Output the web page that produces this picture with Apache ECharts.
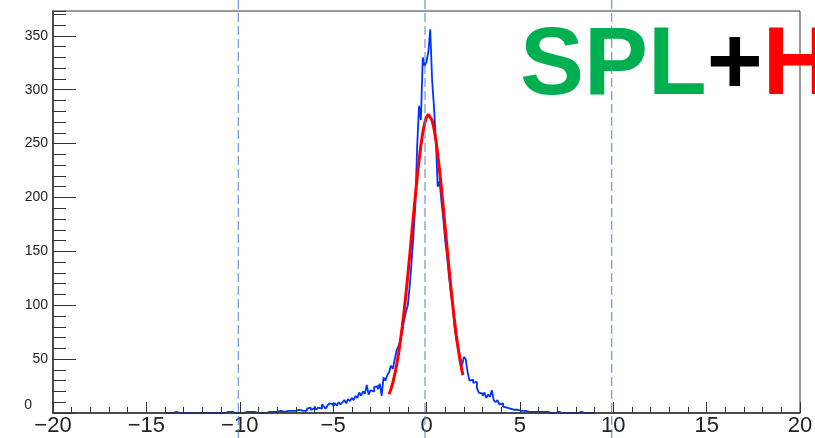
<!DOCTYPE html>
<html><head><meta charset="utf-8">
<script src="https://cdn.jsdelivr.net/npm/echarts@6/dist/echarts.min.js"></script>
<style>html,body{margin:0;padding:0;background:#fff}#c{width:815px;height:438px}</style>
</head><body><div id="c"></div>
<script>
// ---- data ----
const binStart = -14.0;
const binWidth = 0.1;
const counts = [
  0,0,0,0,0,1,0,0,0,0,          // -14.0
  0,0,0,0,0,0,0,0,1,0,          // -13.0
  0,0,0,0,0,0,1,0,1,0,          // -12.0
  1,0,0,1,0,1,0,0,0,0,          // -11.0
  0,0,0,1,1,1,1,1,0,0,          // -10.0
  0,0,0,0,1,1,0,1,2,1,          // -9.0
  1,2,3,1,1,2,1,2,1,2,          // -8.0
  2,3,4,2,3,2,4,5,3,4,          // -7.0
  6,3,5,4,8,6,4,7,9,8,          // -6.0
  6,9,7,10,8,10,12,9,13,11,     // -5.0
  14,12,16,14,19,16,20,18,26,17,// -4.0
  21,20,24,25,22,27,16,33,30,35,// -3.0
  38,44,41,50,58,62,67,76,86,94,// -2.0
  100,118,140,165,192,247,285,272,330,322, // -1.0
  326,335,356,309,284,253,210,215,196,180, // 0.0
  160,146,128,112,100,80,68,60,52,44,      // 1.0
  52,50,38,30,31,28,29,23,19,18,           // 2.0
  16,19,14,17,15,21,12,10,12,8,            // 3.0
  9,6,5,6,4,5,3,4,3,4,                     // 4.0
  2,3,2,2,1,2,1,2,1,1,                     // 5.0
  1,0,1,0,1,1,0,1,0,1,                     // 6.0
  1,0,0,1,0,1,0,0,0,0,                     // 7.0
  0,0,1,0,0,0,0,0,0,0                      // 8.0
];
const fitX = [-2.0,-1.9,-1.8,-1.7,-1.6,-1.5,-1.4,-1.3,-1.2,-1.1,
              -1.0,-0.9,-0.8,-0.7,-0.6,-0.5,-0.4,-0.3,-0.2,-0.1,
              0.0,0.1,0.2,0.3,0.4,0.5,0.6,0.7,0.8,0.9,
              1.0,1.1,1.2,1.3,1.4,1.5,1.6,1.7,1.8,1.9,1.95];
const fitY = [17.3,22.3,28.5,35.8,44.6,54.8,66.6,79.8,94.5,110.5,
              127.7,145.8,164.3,182.9,201.1,218.5,234.4,248.4,260.0,268.9,
              274.5,277.0,275.9,271.5,263.9,253.4,240.3,225.0,208.3,190.4,
              171.9,153.4,135.1,117.6,101.0,85.6,71.4,59.3,48.5,39.2,35.1];
const xTickValues = [-20,-15,-10,-5,0,5,10,15,20];
const xTickLabels = ['\u221220','\u221215','\u221210','\u22125','0','5','10','15','20'];
const yTickValues = [0,50,100,150,200,250,300,350];
const yTickLabels = ['0','50','100','150','200','250','300','350'];
const guideX = [-10, 0, 10];
const titleParts = ['SPL','+','H'];

// ---- chart ----
const FONT = '"Liberation Sans", Arial, Helvetica, sans-serif';
const chart = echarts.init(document.getElementById('c'), null, {renderer:'canvas'});

const histPts = [[binStart, 0]];
counts.forEach((c, i) => {
  const lo = +(binStart + i * binWidth).toFixed(2);
  const hi = +(binStart + (i + 1) * binWidth).toFixed(2);
  histPts.push([lo, c], [hi, c]);
});
histPts.push([+(binStart + counts.length * binWidth).toFixed(2), 0]);
const fitPts = fitX.map((x, i) => [x, fitY[i]]);

const xLab = v => { const k = xTickValues.indexOf(v); return k >= 0 ? xTickLabels[k] : ''; };
const yLab = v => { const k = yTickValues.indexOf(v); if (k < 0) return ''; return v === 0 ? '{z|0}' : yTickLabels[k]; };

const axisColor = '#333';
chart.setOption({
  animation: false,
  grid: {left: 53, right: 15, top: 11, bottom: 25, show: true, borderColor: axisColor, borderWidth: 1,
         backgroundColor: 'transparent', outerBoundsMode: 'none', containLabel: false},
  xAxis: {
    type: 'value', min: -20, max: 20, interval: 5, z: 10,
    axisLine: {show: true, onZero: false, lineStyle: {color: axisColor, width: 1.5}},
    axisTick: {show: true, inside: true, length: 11, lineStyle: {color: axisColor, width: 1}},
    minorTick: {show: true, splitNumber: 5, length: 6, lineStyle: {color: axisColor, width: 1}},
    axisLabel: {show: true, fontSize: 22, color: '#222', fontFamily: FONT, margin: 2,
                showMinLabel: true, showMaxLabel: true, formatter: xLab},
    splitLine: {show: false}, minorSplitLine: {show: false}
  },
  yAxis: [{
    type: 'value', min: 0, max: 373, interval: 50, position: 'left', z: 10,
    axisLine: {show: true, onZero: false, lineStyle: {color: axisColor, width: 1.5}},
    axisTick: {show: true, inside: true, length: 23, lineStyle: {color: axisColor, width: 1}},
    axisLabel: {show: true, fontSize: 14, color: '#222', fontFamily: FONT, margin: 5,
                showMinLabel: true, showMaxLabel: false, formatter: yLab,
                rich: {z: {fontSize: 14, color: '#222', fontFamily: FONT, padding: [0, 16, 16, 0]}}},
    splitLine: {show: false}
  }, {
    type: 'value', min: 0, max: 373, interval: 10, position: 'left', offset: 0, z: 10,
    axisLine: {show: false, onZero: false},
    axisTick: {show: true, inside: true, length: 13, lineStyle: {color: axisColor, width: 1}},
    axisLabel: {show: false},
    splitLine: {show: false}
  }],
  series: [
    {type: 'line', data: histPts, symbol: 'none', showSymbol: false, z: 2, silent: true,
     sampling: null, lineStyle: {color: '#0033ff', width: 1.8}},
    {type: 'line', data: fitPts, symbol: 'none', showSymbol: false, z: 3, silent: true,
     lineStyle: {color: '#ff0000', width: 3}}
  ]
});

const px = v => chart.convertToPixel({xAxisIndex: 0}, v);
const tf = {fontSize: 96, fontWeight: 'bold', fontFamily: FONT};
chart.setOption({
  graphic: [
    {type: 'text', x: 520, y: 68, z: 50, silent: true,
     style: Object.assign({
       text: '{g|' + titleParts[0] + '}{k|' + titleParts[1] + '}{r|' + titleParts[2] + '}',
       align: 'left', verticalAlign: 'middle',
       rich: {g: Object.assign({fill: '#00b050'}, tf), k: Object.assign({fill: '#000'}, tf), r: Object.assign({fill: '#ff0000'}, tf)}
     }, tf)}
  ].concat(guideX.map(v => ({
    type: 'line', z: 60, silent: true,
    shape: {x1: px(v) - 1.5, y1: 0, x2: px(v) - 1.5, y2: 438},
    style: {stroke: '#4f7fd6', lineWidth: 1, lineDash: [9, 4]}
  })))
});
</script></body></html>
